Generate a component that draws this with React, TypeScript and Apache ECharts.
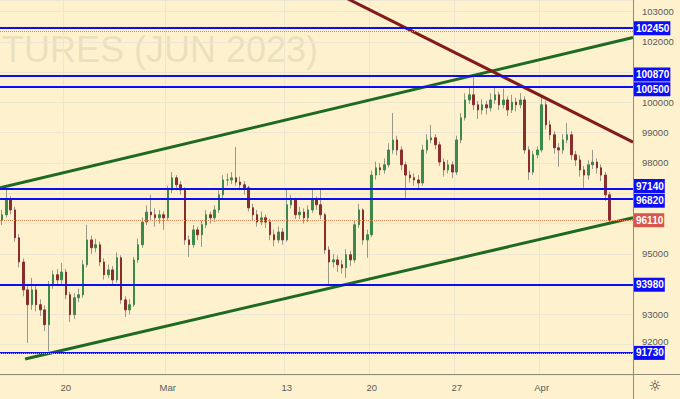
import React, { useEffect, useRef } from 'react';
import * as echarts from 'echarts';

// ---------- data ----------
const tradingDays = [
  'Feb 14', 'Feb 15', 'Feb 16', 'Feb 17', 'Feb 20', 'Feb 21', 'Feb 22', 'Feb 24', 'Feb 27', 'Feb 28',
  'Mar 1', 'Mar 2', 'Mar 3', 'Mar 6', 'Mar 7', 'Mar 9', 'Mar 10', 'Mar 13', 'Mar 14', 'Mar 15',
  'Mar 16', 'Mar 17', 'Mar 20', 'Mar 21', 'Mar 22', 'Mar 23', 'Mar 24', 'Mar 27', 'Mar 28', 'Mar 29',
  'Mar 30', 'Mar 31', 'Apr 3', 'Apr 4', 'Apr 5', 'Apr 6', 'Apr 7',
];
const dayTickLabels: Record<string, string> = {
  'Feb 20': '20', 'Mar 1': 'Mar', 'Mar 13': '13', 'Mar 20': '20', 'Mar 27': '27', 'Apr 3': 'Apr',
};
const candlesPerDay = 4;
const firstDaySlots = 3;
const totalSlots = 149;

const opens = [
  96100, 96290, 96780, 96450, 95530, 94730, 93810, 93320, 93810, 93320,
  93150, 92660, 93980, 94310, 94140, 94400, 93650, 92990, 93550, 93650,
  94640, 95460, 95200, 95300, 94730, 94310, 94470, 94140, 94870, 93480,
  93150, 93320, 94800, 95300, 96050, 96380, 96290, 96190, 96290, 96190,
  97110, 97510, 97280, 97110, 95460, 95300, 95790, 95630, 95960, 96290,
  96190, 96450, 96950, 97440, 97440, 97510, 97370, 97280, 97180, 96520,
  96290, 96050, 96190, 96050, 95630, 95460, 95720, 95460, 96620, 96780,
  96290, 96380, 96190, 96450, 96780, 96620, 96290, 95130, 94730, 94800,
  94640, 94540, 94970, 94800, 95960, 96450, 95460, 95630, 97600, 97840,
  97770, 97940, 98430, 98760, 98430, 97940, 97600, 97510, 97440, 97340,
  98430, 98760, 98830, 98600, 98030, 97770, 97940, 97700, 98760, 99490,
  100080, 100250, 99920, 99750, 99920, 99820, 100080, 100250, 99920, 100080,
  99750, 100010, 99920, 100080, 98430, 97700, 98270, 98430, 99920, 99260,
  98930, 98500, 98430, 98760, 98930, 98270, 98100, 97770, 97600, 97940,
  98030, 97840, 97600, 96950,
];
const closes = [
  96290, 96780, 96450, 95530, 94730, 93810, 93320, 93810, 93320, 93150,
  92660, 93980, 94310, 94140, 94400, 93650, 92990, 93550, 93650, 94640,
  95460, 95200, 95300, 94730, 94310, 94470, 94140, 94870, 93480, 93150,
  93320, 94800, 95300, 96050, 96380, 96290, 96190, 96290, 96190, 97110,
  97510, 97280, 97110, 95460, 95300, 95790, 95630, 95960, 96290, 96190,
  96450, 96950, 97440, 97440, 97510, 97370, 97280, 97180, 96520, 96290,
  96050, 96190, 96050, 95630, 95460, 95720, 95460, 96620, 96780, 96290,
  96380, 96190, 96450, 96780, 96620, 96290, 95130, 94730, 94800, 94640,
  94540, 94970, 94800, 95960, 96450, 95460, 95630, 97600, 97840, 97770,
  97940, 98430, 98760, 98430, 97940, 97600, 97510, 97440, 97340, 98430,
  98760, 98830, 98600, 98030, 97770, 97940, 97700, 98760, 99490, 100080,
  100250, 99920, 99750, 99920, 99820, 100080, 100250, 99920, 100080, 99750,
  100010, 99920, 100080, 98430, 97700, 98270, 98430, 99920, 99260, 98930,
  98500, 98430, 98760, 98930, 98270, 98100, 97770, 97600, 97940, 98030,
  97840, 97600, 96950, 96110,
];
const lows = [
  95950, 96200, 96300, 95400, 94550, 93600, 92060, 93150, 93100, 92950,
  92450, 91780, 93850, 93950, 94000, 93500, 92750, 92850, 93400, 93550,
  94550, 95000, 95050, 94600, 94150, 94200, 93950, 94050, 93350, 92920,
  93000, 93250, 94700, 95200, 95950, 96100, 95900, 96000, 95790, 96100,
  97000, 97100, 96950, 95300, 94900, 95200, 95450, 95230, 95850, 96000,
  96050, 96350, 96850, 97250, 97300, 97250, 97100, 96950, 96400, 96100,
  95900, 95950, 95850, 95450, 95250, 95350, 95300, 95400, 96500, 96150,
  96150, 96000, 96050, 96350, 96450, 96150, 95000, 93980, 94550, 94400,
  94350, 94210, 94600, 94700, 95850, 95300, 94870, 95550, 97450, 97600,
  97650, 97850, 98300, 98250, 97750, 96850, 97350, 97250, 97110, 97250,
  98300, 98650, 98450, 97900, 97550, 97650, 97500, 97600, 98650, 99400,
  99950, 99750, 99450, 99600, 99600, 99700, 99950, 99750, 99800, 99550,
  99650, 99700, 99800, 98300, 97440, 97600, 98150, 98350, 99100, 98750,
  98300, 97870, 98300, 98650, 98100, 97900, 97550, 97180, 97450, 97800,
  97650, 97400, 96750, 96050,
];
const highs = [
  96450, 97110, 96900, 96550, 95650, 94850, 93950, 94210, 93950, 93500,
  93300, 94100, 94450, 94500, 94700, 94500, 93750, 93700, 93850, 94800,
  95960, 95600, 95500, 95400, 94850, 94650, 94600, 95050, 94950, 93600,
  93500, 94900, 95500, 96200, 96600, 96950, 96500, 96450, 96400, 97250,
  97700, 97600, 97400, 97200, 95600, 95950, 95900, 96100, 96450, 96400,
  96600, 97100, 97600, 97650, 97700, 98530, 97550, 97400, 97250, 96650,
  96450, 96400, 96300, 96150, 95800, 95900, 95850, 97180, 96950, 96850,
  96550, 96500, 96600, 97110, 96900, 97110, 96350, 95250, 95000, 94950,
  94800, 95150, 95100, 96100, 96650, 96500, 95800, 97750, 98050, 98000,
  98150, 98650, 99650, 98900, 98550, 98050, 97750, 97650, 97600, 98600,
  98950, 99260, 98950, 98700, 98150, 98100, 98050, 98900, 99650, 100300,
  100480, 100870, 100050, 100100, 100050, 100300, 100480, 100350, 100450, 100200,
  100250, 100150, 100300, 100200, 98550, 98400, 98550, 100250, 100050, 99400,
  99050, 98650, 98950, 99320, 99050, 98400, 98250, 97900, 98100, 98430,
  98150, 97950, 97700, 97050,
];

const levels = [102450, 100870, 100500, 97140, 96820, 93980, 91730];
const lastPrice = 96110;
const greyDottedLevels = [102360];
const yTickValues = [103000, 102000, 100000, 99000, 98000, 95000, 93000, 92000];
const yMin = 91000;
const yMax = 103380;

// trendline anchors: [slot index, price]
const upperChannel = [[-0.5, 97180], [148.5, 102140]];
const lowerChannel = [[5.4, 91530], [148.5, 96190]];
const resistanceLine = [[79.5, 103550], [148.5, 98690]];

const watermark = 'TURES (JUN 2023)';

// label nudges so stacked price boxes don't collide (as the platform does)
const labelNudge: Record<number, number> = { 100870: -1.5, 100500: 2, 97140: -3, 96820: 2 };

// ---------- build ----------
const categories: string[] = [];
tradingDays.forEach((d, di) => {
  const n = di === 0 ? firstDaySlots : candlesPerDay;
  for (let k = 0; k < n; k++) {
    const slot = di === 0 ? k + candlesPerDay - firstDaySlots : k;
    categories.push(d + '|' + slot);
  }
});
while (categories.length < totalSlots) categories.push('pad|' + categories.length);

const isTick = (_i: number, value: string) => {
  const [d, k] = String(value).split('|');
  return k === '0' && dayTickLabels[d] !== undefined;
};

const FONT = 'Liberation Sans, Arial, sans-serif';
const BG = '#fdf2cd';
const GRID = '#ece6d2';
const BLUE = '#0c0cf5';
const UP = '#3b8a4b';
const DOWN = '#8a2d2d';
const WICK = '#9a978c';

export default function App() {
  const ref = useRef<HTMLDivElement>(null);
  useEffect(() => {
    if (!ref.current) return;
    const chart = echarts.init(ref.current, undefined, { renderer: 'svg' });

    const wickData = opens.map((o, i) => [o, closes[i], lows[i], highs[i]]);
    const bodyData = opens.map((o, i) => [o, closes[i], Math.min(o, closes[i]), Math.max(o, closes[i])]);

    const levelLabel = (bg: string, v: number) => ({
      show: true,
      position: 'end',
      distance: 1,
      offset: [0, labelNudge[v] || 0],
      formatter: (p: any) => String(p.value),
      color: '#ffffff',
      fontWeight: 'bold',
      fontSize: 10,
      fontFamily: FONT,
      backgroundColor: bg,
      padding: [2, 1, 1, 2],
      lineHeight: 11,
    });

    const markData: any[] = [
      ...greyDottedLevels.map((v) => ({
        yAxis: v,
        lineStyle: { color: '#9a9a9a', type: 'dotted', width: 1 },
        label: { show: false },
      })),
      {
        yAxis: lastPrice,
        lineStyle: { color: '#e8865a', type: 'dotted', width: 1 },
        label: levelLabel('#d8574b', lastPrice),
      },
      ...levels.map((v) => ({
        yAxis: v,
        lineStyle: { color: BLUE, type: 'solid', width: 2 },
        label: levelLabel(BLUE, v),
      })),
      {
        yAxis: levels[levels.length - 1],
        lineStyle: { color: '#b8b8ff', type: 'dotted', width: 1 },
        label: { show: false },
      },
    ];

    const trend = (data: number[][], color: string) => ({
      type: 'line',
      xAxisIndex: 1,
      yAxisIndex: 0,
      data,
      symbol: 'none',
      silent: true,
      z: 4,
      lineStyle: { color, width: 3 },
    });

    chart.setOption({
      animation: false,
      backgroundColor: BG,
      textStyle: { fontFamily: FONT },
      grid: { left: 0, right: 47, top: 0, bottom: 24, containLabel: false },
      xAxis: [
        {
          type: 'category',
          data: categories,
          boundaryGap: true,
          axisLine: { show: false },
          axisTick: { show: false },
          axisLabel: {
            interval: isTick,
            formatter: (v: string) => dayTickLabels[String(v).split('|')[0]] || '',
            color: '#5a5a5a',
            fontSize: 9.5,
            margin: 7,
            fontFamily: FONT,
          },
          splitLine: { show: true, interval: isTick, lineStyle: { color: GRID, width: 1 } },
        },
        { type: 'value', min: -0.5, max: totalSlots - 0.5, show: false },
      ],
      yAxis: {
        type: 'value',
        position: 'right',
        min: yMin,
        max: yMax,
        interval: 1000,
        axisLine: { show: false },
        axisTick: { show: false },
        axisLabel: {
          formatter: (v: number) => {
            if (!yTickValues.includes(v)) return '';
            return v === 92000 ? '{lo|' + v + '}' : String(v);
          },
          color: '#5a5a5a',
          fontSize: 9.5,
          margin: 9,
          fontFamily: FONT,
          rich: { lo: { color: '#5a5a5a', fontSize: 9.5, fontFamily: FONT, padding: [0, 0, 6, 0] } },
        },
        splitLine: { lineStyle: { color: GRID, width: 1 } },
      },
      graphic: [
        {
          type: 'text',
          left: 2,
          top: 31,
          z: 0,
          silent: true,
          style: {
            text: watermark,
            fill: 'rgba(160,150,120,0.2)',
            font: '36px Liberation Sans, Arial, sans-serif',
          },
        },
        {
          type: 'line',
          z: 10,
          silent: true,
          shape: { x1: 0, y1: 374.5, x2: 680, y2: 374.5 },
          style: { stroke: '#8f8b7b', lineWidth: 1 },
        },
        {
          type: 'line',
          z: 10,
          silent: true,
          shape: { x1: 633.5, y1: 0, x2: 633.5, y2: 399 },
          style: { stroke: '#8f8b7b', lineWidth: 1 },
        },
        {
          type: 'text',
          x: 655,
          y: 386,
          z: 10,
          silent: true,
          style: {
            text: '\u263C',
            fill: '#333333',
            font: '15px DejaVu Sans',
            align: 'center',
            verticalAlign: 'middle',
          },
        },
      ],
      series: [
        {
          type: 'candlestick',
          name: 'wicks',
          data: wickData,
          barWidth: 1,
          silent: true,
          z: 2,
          itemStyle: { color: WICK, color0: WICK, borderColor: WICK, borderColor0: WICK, borderWidth: 1 },
        },
        {
          type: 'candlestick',
          name: 'bodies',
          data: bodyData,
          barWidth: 2,
          silent: true,
          z: 3,
          itemStyle: { color: UP, color0: DOWN, borderColor: UP, borderColor0: DOWN, borderWidth: 1 },
          markLine: {
            silent: true,
            symbol: ['none', 'none'],
            animation: false,
            data: markData,
          },
        },
        trend(upperChannel, '#1f6a22'),
        trend(lowerChannel, '#1f6a22'),
        trend(resistanceLine, '#821b1b'),
      ],
    });
    return () => chart.dispose();
  }, []);

  return (
    <div
      ref={ref}
      style={{ position: 'fixed', left: 0, top: 0, width: 680, height: 399 }}
    />
  );
}
